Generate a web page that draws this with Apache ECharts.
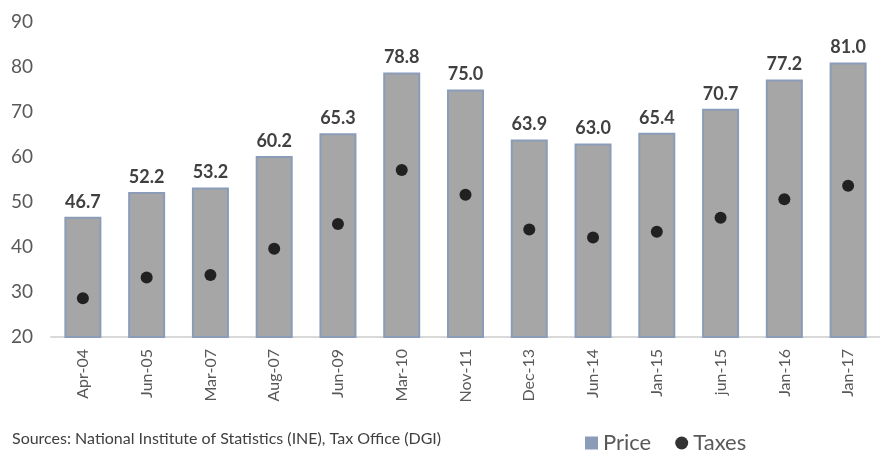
<!DOCTYPE html>
<html lang="en">
<head>
    <meta charset="UTF-8">
    <title>index</title>
    <script src="https://cdn.jsdelivr.net/npm/echarts@6/dist/echarts.min.js"></script>
    <style>
        html,body{margin:0;padding:0;background:#fff;}
        #chart{width:880px;height:453px;}
    </style>
</head>
<body>
    <div id="chart"></div>
<script>
    var categories = ['Apr-04','Jun-05','Mar-07','Aug-07','Jun-09','Mar-10','Nov-11','Dec-13','Jun-14','Jan-15','jun-15','Jan-16','Jan-17'];
    var price = [46.7, 52.2, 53.2, 60.2, 65.3, 78.8, 75.0, 63.9, 63.0, 65.4, 70.7, 77.2, 81.0];
    var taxes = [28.6, 33.2, 33.8, 39.6, 45.1, 57.1, 51.6, 43.9, 42.1, 43.4, 46.5, 50.6, 53.6];
    var yTicks = [20, 30, 40, 50, 60, 70, 80, 90];

    var font = 'Lato, "Open Sans", sans-serif';
    var chart = echarts.init(document.getElementById('chart'));
    chart.setOption({
        animation: false,
        textStyle: {fontFamily: font},
        grid: {left: 51, top: 22, width: 842, height: 315, containLabel: false},
        legend: {
            left: 580, top: 427,
            itemWidth: 13, itemHeight: 13, itemGap: 24,
            textStyle: {fontSize: 22, color: '#595959', fontFamily: font},
            data: [
                {name: 'Price', icon: 'rect', itemStyle: {color: '#8a9cb8', borderWidth: 0}},
                {name: 'Taxes', icon: 'circle'}
            ]
        },
        graphic: [{
            type: 'text', left: 12, top: 431,
            style: {text: 'Sources: National Institute of Statistics (INE), Tax Office (DGI)', fontSize: 16, fill: '#404040', fontFamily: font}
        }],
        xAxis: {
            type: 'category',
            data: categories,
            axisLine: {lineStyle: {color: '#d9d9d9', width: 2}},
            axisTick: {show: false},
            axisLabel: {rotate: 90, fontSize: 16, color: '#595959', margin: 12, interval: 0}
        },
        yAxis: {
            type: 'value',
            min: yTicks[0], max: yTicks[yTicks.length - 1], interval: 10,
            splitLine: {show: false},
            axisLine: {show: false},
            axisTick: {show: false},
            axisLabel: {fontSize: 19, color: '#595959', margin: 18}
        },
        series: [{
            name: 'Price',
            type: 'bar',
            data: price,
            barWidth: 37,
            itemStyle: {color: '#a6a6a6', borderColor: '#8a9cb8', borderWidth: 2},
            label: {
                show: true, position: 'top', distance: 6,
                fontSize: 18, fontWeight: 'bold', color: '#404040',
                formatter: function (p) { return p.value.toFixed(1); }
            }
        }, {
            name: 'Taxes',
            type: 'scatter',
            data: taxes,
            symbol: 'circle',
            symbolSize: 12,
            itemStyle: {color: '#000'}
        }]
    });
</script>
</body>
</html>
